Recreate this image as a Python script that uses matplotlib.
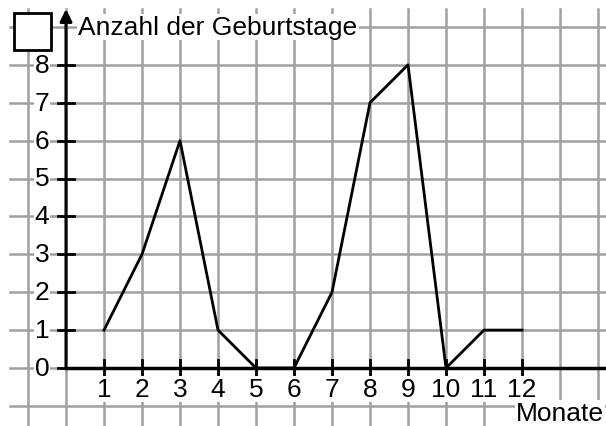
import matplotlib.pyplot as plt
from matplotlib.patches import Rectangle

plt.rcParams['font.family'] = ['Liberation Sans', 'DejaVu Sans']

months = [1, 2, 3, 4, 5, 6, 7, 8, 9, 10, 11, 12]
birthdays = [1, 3, 6, 1, 0, 0, 2, 7, 8, 0, 1, 1]
y_ticks = [0, 1, 2, 3, 4, 5, 6, 7, 8]
y_label = "Anzahl der Geburtstage"
x_label = "Monate"

fig = plt.figure(figsize=(6.06, 4.27), dpi=100)
ax = fig.add_axes([0, 0, 1, 1])
xmin, xmax = -66 / 38, 540 / 38
ymin, ymax = -58 / 37.9, 369 / 37.9
ax.set_xlim(xmin, xmax)
ax.set_ylim(ymin, ymax)
ax.axis("off")

grid_col = "#a0a0a0"
fs = 19
# grid
for gy in range(-1, 10):
    ax.plot([-1.47, xmax], [gy, gy], color=grid_col, lw=1.8, zorder=1)
for gx in range(-1, 15):
    ax.plot([gx, gx], [ymin, 9.47], color=grid_col, lw=1.8, zorder=1)

# axes
ax.plot([0, xmax], [0, 0], color="black", lw=2.5, zorder=3)
ax.annotate("", xy=(0, 9.47), xytext=(0, 0),
            arrowprops=dict(arrowstyle="-|>", lw=2.2, color="black",
                            mutation_scale=18, shrinkA=0, shrinkB=0),
            zorder=3)

# ticks
for t in y_ticks:
    ax.plot([-0.22, 0.22], [t, t], color="black", lw=2, zorder=3)
    ax.text(-0.63, t, str(t), ha="center", va="center", fontsize=fs,
            bbox=dict(facecolor="white", edgecolor="none", pad=0.5), zorder=4)
for m in months:
    ax.plot([m, m], [-0.22, 0.22], color="black", lw=2, zorder=3)
    ax.text(m, -0.55, str(m), ha="center", va="center", fontsize=fs,
            bbox=dict(facecolor="white", edgecolor="none", pad=0.5), zorder=4)

# data line
ax.plot(months, birthdays, color="black", lw=2, zorder=5)

# labels
ax.text(0.32, 9.0, y_label, ha="left", va="center", fontsize=fs,
        bbox=dict(facecolor="white", edgecolor="none", pad=1), zorder=4)
ax.text(14.16, -1.19, x_label, ha="right", va="center", fontsize=fs,
        bbox=dict(facecolor="white", edgecolor="none", pad=1), zorder=4)

# answer box
ax.add_patch(Rectangle((-1.37, 8.39), 0.98, 0.98, facecolor="white",
                       edgecolor="black", lw=2, zorder=4))

fig.savefig("out.png", dpi=100)
